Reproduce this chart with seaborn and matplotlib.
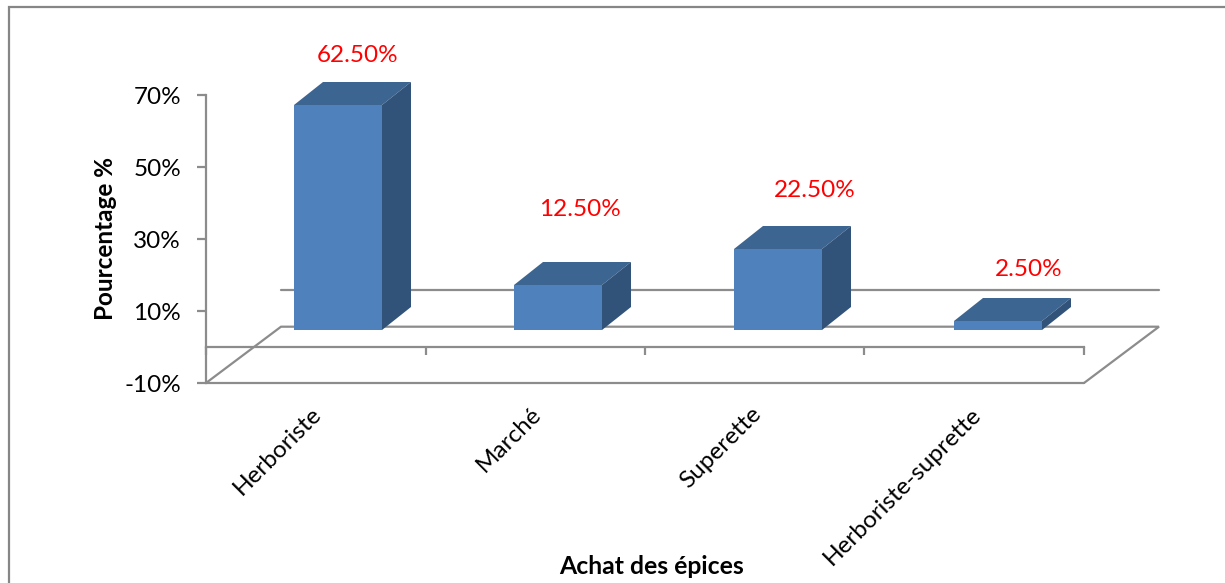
import matplotlib
matplotlib.use("Agg")
import matplotlib.pyplot as plt
import pandas as pd
import seaborn as sns
from matplotlib.lines import Line2D
from matplotlib.patches import Polygon
from matplotlib.ticker import FixedLocator

categories = ["Herboriste", "Marché", "Superette", "Herboriste-suprette"]
percentages = [62.5, 12.5, 22.5, 2.5]
value_labels = ["62.50%", "12.50%", "22.50%", "2.50%"]
y_ticks = [-10, 10, 30, 50, 70]
y_tick_labels = ["-10%", "10%", "30%", "50%", "70%"]

W, H = 1225, 583
PX_X = 220.0   # pixels per category
PX_Y = 3.6     # pixels per percentage point
AX_L, AX_R, AX_T, AX_B = 206, 1084, 95, 383
FIRST_CENTER = 338
GRAY = "#8C8C8C"
FRONT, TOP, SIDE = "#4F81BD", "#3D6591", "#325379"
FONT = 17.5
LW = 1.6

sns.set_theme(style="white")
plt.rcParams["font.family"] = ["Lato", "DejaVu Sans"]

fig = plt.figure(figsize=(W / 100, H / 100), dpi=100, facecolor="white")
ax = fig.add_axes([AX_L / W, 1 - AX_B / H, (AX_R - AX_L) / W, (AX_B - AX_T) / H])
ax.patch.set_alpha(0)

base = 17 / PX_Y            # bars stand on the floor, behind the front axis
depth_x, depth_y = 29 / PX_X, 23 / PX_Y
wall_x = 75 / PX_X

df = pd.DataFrame({"Achat": categories, "Pourcentage": percentages})
sns.barplot(data=df, x="Achat", y="Pourcentage", color=FRONT, saturation=1,
            width=0.4, bottom=base, ax=ax, zorder=4, clip_on=False, linewidth=0)

xl = (AX_L - FIRST_CENTER) / PX_X
xr = (AX_R - FIRST_CENTER) / PX_X
ax.set_xlim(xl, xr)
ax.set_ylim(-10, 70)

# 3D faces, derived from the bars
for bar in ax.patches:
    x0, x1 = bar.get_x(), bar.get_x() + bar.get_width()
    y0, y1 = bar.get_y(), bar.get_y() + bar.get_height()
    ax.add_patch(Polygon([(x0, y1), (x1, y1), (x1 + depth_x, y1 + depth_y), (x0 + depth_x, y1 + depth_y)],
                         closed=True, fc=TOP, ec="none", zorder=4, clip_on=False))
    ax.add_patch(Polygon([(x1, y0), (x1, y1), (x1 + depth_x, y1 + depth_y), (x1 + depth_x, y0 + depth_y)],
                         closed=True, fc=SIDE, ec="none", zorder=4, clip_on=False))

# floor and back wall
floor_back = (347 - 326.7) / PX_Y
wall_line = (347 - 290) / PX_Y
ax.plot([xl, xl + wall_x, xr + wall_x, xr], [-10, floor_back, floor_back, -10],
        color=GRAY, lw=LW, zorder=2, clip_on=False, solid_joinstyle="miter")
ax.plot([xl + wall_x, xr + wall_x], [wall_line, wall_line], color=GRAY, lw=LW, zorder=2, clip_on=False)
ax.plot([xl, xr], [-10, -10], color=GRAY, lw=LW, zorder=2, clip_on=False)

# axes
for s in ["top", "right"]:
    ax.spines[s].set_visible(False)
ax.spines["left"].set_color(GRAY)
ax.spines["left"].set_linewidth(LW)
ax.spines["bottom"].set_color(GRAY)
ax.spines["bottom"].set_linewidth(LW)
ax.spines["bottom"].set_position(("data", 0))

ax.set_yticks(y_ticks, y_tick_labels, fontsize=FONT, color="black")
ax.tick_params(axis="y", left=True, length=6.5, width=LW, color=GRAY, pad=11.5)

label_pos = [i - 20.5 / PX_X for i in range(len(categories))]
ax.set_xticks(label_pos, categories, fontsize=FONT, color="black", rotation=45,
              ha="right", va="center", rotation_mode="anchor")
ax.tick_params(axis="x", which="major", bottom=True, length=0, pad=46)
ax.xaxis.set_minor_locator(FixedLocator([xl + i * (xr - xl) / 4 for i in range(5)]))
ax.tick_params(axis="x", which="minor", bottom=True, length=6, width=LW, color=GRAY, direction="out")

ax.set_xlabel("")
ax.set_ylabel("")
fig.text(105.5 / W, 1 - 238 / H, "Pourcentage %", rotation=90, ha="center", va="center",
         fontsize=FONT, fontweight="bold", color="black")
fig.text(652 / W, 1 - 566.5 / H, "Achat des épices", ha="center", va="center",
         fontsize=FONT + 0.3, fontweight="bold", color="black")

# value labels
label_offsets = [(20, 49.5), (22, 75.5), (36.5, 58.5), (30.5, 51.5)]
for bar, text, (ox, oy) in zip(ax.patches, value_labels, label_offsets):
    ax.annotate(text, (bar.get_x() + bar.get_width() / 2, bar.get_y() + bar.get_height()),
                xytext=(ox * 0.72, oy * 0.72), textcoords="offset points",
                ha="center", va="center", color="#FF0000", fontsize=FONT, zorder=6, annotation_clip=False)

# chart frame: top and left edges only, the picture is cropped on the other sides
fig.add_artist(Line2D([8.5 / W, 8.5 / W, 1], [0, 1 - 6.5 / H, 1 - 6.5 / H],
                      transform=fig.transFigure, color="#868686", lw=1.6,
                      solid_joinstyle="miter"))

fig.savefig("out.png", dpi=100, facecolor="white")
